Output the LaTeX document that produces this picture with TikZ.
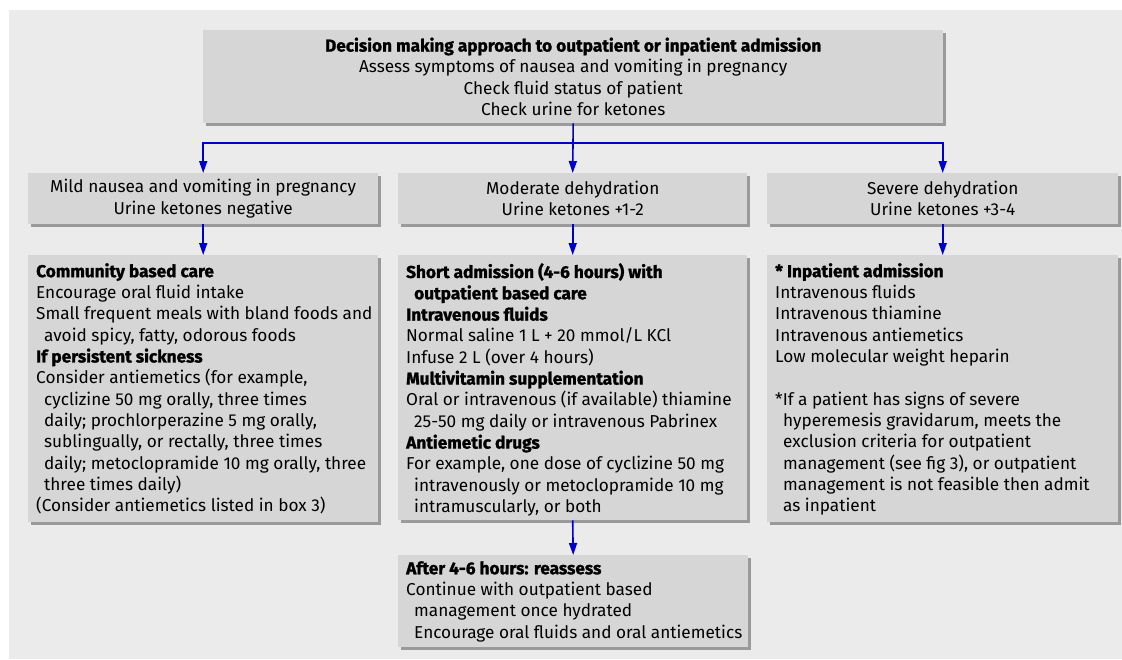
\documentclass[tikz,border=0pt]{standalone}
\usepackage{fontspec}
\setmainfont{Fira Sans}[BoldFeatures={FakeBold=1.3}]
\usetikzlibrary{shadows,arrows.meta}
\definecolor{bg}{HTML}{EBEBEB}
\definecolor{boxfill}{HTML}{D6D6D6}
\definecolor{shade}{HTML}{9A9A9A}
\definecolor{arrblue}{HTML}{0000CC}
\newcommand\hind{\hspace*{8pt}}
\tikzset{
  fbox/.style={fill=boxfill, anchor=north west, inner sep=0pt,
    drop shadow={shadow xshift=3pt, shadow yshift=-3pt, fill=shade, opacity=1},
    font=\fontsize{17.2}{21.33}\selectfont},
  cbox/.style={fbox, align=center},
  txt/.style={anchor=north west, inner sep=0pt, align=left,
    font=\fontsize{17.2}{21.33}\selectfont},
  arr/.style={draw=arrblue, line width=1.6pt, -{Triangle[length=12pt,width=8pt]}},
}
\begin{document}
\begin{tikzpicture}[x=1pt,y=-1pt]
\useasboundingbox (0,0) rectangle (1122,659);
\fill[white] (0,0) rectangle (1122,659);
\fill[bg] (9,10) rectangle (1122,659);

\node[cbox, minimum width=740, minimum height=93] (top) at (203,30)
  {\textbf{Decision making approach to outpatient or inpatient admission}\\
   Assess symptoms of nausea and vomiting in pregnancy\\
   Check fluid status of patient\\
   Check urine for ketones};

\node[cbox, minimum width=350, minimum height=51] (left2) at (28,173)
  {Mild nausea and vomiting in pregnancy\\Urine ketones negative};
\node[cbox, minimum width=349, minimum height=51] (mid2) at (398,173)
  {Moderate dehydration\\Urine ketones +1-2};
\node[cbox, minimum width=351, minimum height=51] (right2) at (767,173)
  {Severe dehydration\\Urine ketones +3-4};

\node[fbox, minimum width=350, minimum height=267] (left3) at (28,255) {};
\node[fbox, minimum width=349, minimum height=265] (mid3) at (398,255) {};
\node[fbox, minimum width=351, minimum height=267] (right3) at (767,255) {};
\node[fbox, minimum width=350, minimum height=92] (after) at (398,555) {};

\node[txt] (left3t) at (36,263)
  {\textbf{Community based care}\\
   Encourage oral fluid intake\\
   Small frequent meals with bland foods and\\
   \hind avoid spicy, fatty, odorous foods\\
   \textbf{If persistent sickness}\\
   Consider antiemetics (for example,\\
   \hind cyclizine 50 mg orally, three times\\
   \hind daily; prochlorperazine 5 mg orally,\\
   \hind sublingually, or rectally, three times\\
   \hind daily; metoclopramide 10 mg orally, three\\
   \hind three times daily)\\
   (Consider antiemetics listed in box 3)};

\node[txt] (mid3t) at (406,263)
  {\textbf{Short admission (4-6 hours) with}\\
   \hind\textbf{outpatient based care}\\
   \textbf{Intravenous fluids}\\
   Normal saline 1 L + 20 mmol/L KCl\\
   Infuse 2 L (over 4 hours)\\
   \textbf{Multivitamin supplementation}\\
   Oral or intravenous (if available) thiamine\\
   \hind 25-50 mg daily or intravenous Pabrinex\\
   \textbf{Antiemetic drugs}\\
   For example, one dose of cyclizine 50 mg\\
   \hind intravenously or metoclopramide 10 mg\\
   \hind intramuscularly, or both};

\node[txt] (right3t) at (775,263)
  {\textbf{* Inpatient admission}\\
   Intravenous fluids\\
   Intravenous thiamine\\
   Intravenous antiemetics\\
   Low molecular weight heparin\\
   \mbox{}\\
   \relax{*}If a patient has signs of severe\\
   \hind hyperemesis gravidarum, meets the\\
   \hind exclusion criteria for outpatient\\
   \hind management (see fig 3), or outpatient\\
   \hind management is not feasible then admit\\
   \hind as inpatient};

\node[txt] (aftert) at (406,561)
  {\textbf{After 4-6 hours: reassess}\\
   Continue with outpatient based\\
   \hind management once hydrated\\
   \hind Encourage oral fluids and oral antiemetics};

\coordinate (split) at (top.south |- 0,143);
\draw[arr] (top.south) -- (mid2.north);
\draw[arr] (split) -| (left2.north);
\draw[arr] (split) -| (right2.north);
\draw[arr] (left2.south) -- (left3.north);
\draw[arr] (mid2.south) -- (mid3.north);
\draw[arr] (right2.south) -- (right3.north);
\draw[arr] (mid3.south) -- (after.north);
\end{tikzpicture}
\end{document}
